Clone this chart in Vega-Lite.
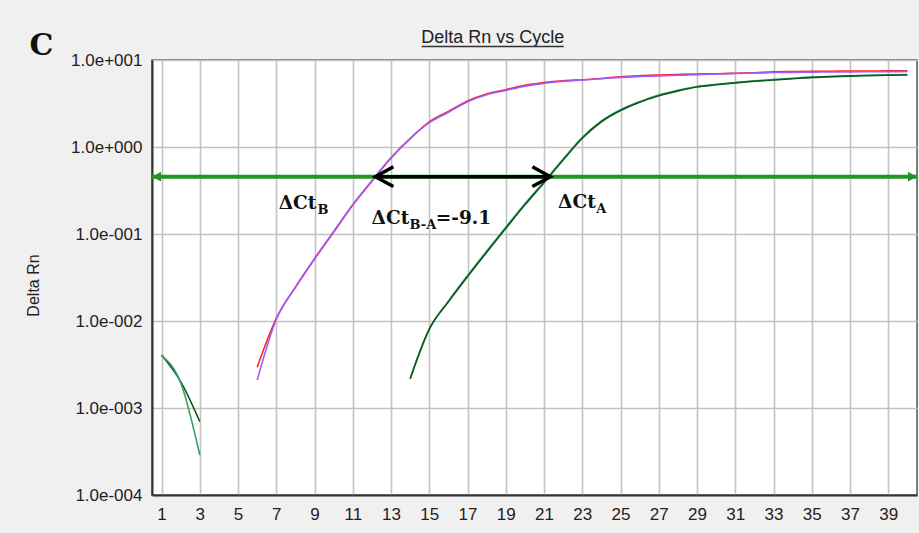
{
  "$schema": "https://vega.github.io/schema/vega-lite/v6.json",
  "autosize": {"type": "none"},
  "padding": {"left": 152, "top": 60, "right": 2, "bottom": 38},
  "width": 765,
  "height": 435,
  "background": "#f0f0f0",
  "datasets": {
    "curves": [
      {"well": "A1", "seg": 1, "cycle": 1, "rn": 0.00406},
      {"well": "A1", "seg": 1, "cycle": 2, "rn": 0.00201},
      {"well": "A1", "seg": 1, "cycle": 3, "rn": 0.000697},
      {"well": "A2", "seg": 1, "cycle": 1, "rn": 0.00400},
      {"well": "A2", "seg": 1, "cycle": 2, "rn": 0.00195},
      {"well": "A2", "seg": 1, "cycle": 3, "rn": 0.000288},

      {"well": "B1", "seg": 2, "cycle": 6, "rn": 0.00294},
      {"well": "B1", "seg": 2, "cycle": 7, "rn": 0.01075},
      {"well": "B1", "seg": 2, "cycle": 8, "rn": 0.0244},
      {"well": "B1", "seg": 2, "cycle": 9, "rn": 0.0516},
      {"well": "B1", "seg": 2, "cycle": 10, "rn": 0.1052},
      {"well": "B1", "seg": 2, "cycle": 11, "rn": 0.2150},
      {"well": "B1", "seg": 2, "cycle": 12, "rn": 0.405},
      {"well": "B1", "seg": 2, "cycle": 13, "rn": 0.748},
      {"well": "B1", "seg": 2, "cycle": 14, "rn": 1.250},
      {"well": "B1", "seg": 2, "cycle": 15, "rn": 1.94},
      {"well": "B1", "seg": 2, "cycle": 16, "rn": 2.57},
      {"well": "B1", "seg": 2, "cycle": 17, "rn": 3.39},
      {"well": "B1", "seg": 2, "cycle": 18, "rn": 4.07},
      {"well": "B1", "seg": 2, "cycle": 19, "rn": 4.56},
      {"well": "B1", "seg": 2, "cycle": 20, "rn": 5.12},
      {"well": "B1", "seg": 2, "cycle": 21, "rn": 5.51},
      {"well": "B1", "seg": 2, "cycle": 22, "rn": 5.78},
      {"well": "B1", "seg": 2, "cycle": 23, "rn": 5.94},
      {"well": "B1", "seg": 2, "cycle": 24, "rn": 6.14},
      {"well": "B1", "seg": 2, "cycle": 25, "rn": 6.42},
      {"well": "B1", "seg": 2, "cycle": 26, "rn": 6.60},
      {"well": "B1", "seg": 2, "cycle": 27, "rn": 6.72},
      {"well": "B1", "seg": 2, "cycle": 28, "rn": 6.82},
      {"well": "B1", "seg": 2, "cycle": 29, "rn": 6.91},
      {"well": "B1", "seg": 2, "cycle": 30, "rn": 6.95},
      {"well": "B1", "seg": 2, "cycle": 31, "rn": 7.04},
      {"well": "B1", "seg": 2, "cycle": 32, "rn": 7.14},
      {"well": "B1", "seg": 2, "cycle": 33, "rn": 7.30},
      {"well": "B1", "seg": 2, "cycle": 34, "rn": 7.36},
      {"well": "B1", "seg": 2, "cycle": 35, "rn": 7.41},
      {"well": "B1", "seg": 2, "cycle": 36, "rn": 7.43},
      {"well": "B1", "seg": 2, "cycle": 37, "rn": 7.46},
      {"well": "B1", "seg": 2, "cycle": 38, "rn": 7.48},
      {"well": "B1", "seg": 2, "cycle": 39, "rn": 7.49},
      {"well": "B1", "seg": 2, "cycle": 40, "rn": 7.51},

      {"well": "B2", "seg": 2, "cycle": 6, "rn": 0.00209},
      {"well": "B2", "seg": 2, "cycle": 7, "rn": 0.01047},
      {"well": "B2", "seg": 2, "cycle": 8, "rn": 0.02455},
      {"well": "B2", "seg": 2, "cycle": 9, "rn": 0.05248},
      {"well": "B2", "seg": 2, "cycle": 10, "rn": 0.1072},
      {"well": "B2", "seg": 2, "cycle": 11, "rn": 0.2188},
      {"well": "B2", "seg": 2, "cycle": 12, "rn": 0.4121},
      {"well": "B2", "seg": 2, "cycle": 13, "rn": 0.7586},
      {"well": "B2", "seg": 2, "cycle": 14, "rn": 1.259},
      {"well": "B2", "seg": 2, "cycle": 15, "rn": 1.905},
      {"well": "B2", "seg": 2, "cycle": 16, "rn": 2.512},
      {"well": "B2", "seg": 2, "cycle": 17, "rn": 3.311},
      {"well": "B2", "seg": 2, "cycle": 18, "rn": 3.981},
      {"well": "B2", "seg": 2, "cycle": 19, "rn": 4.467},
      {"well": "B2", "seg": 2, "cycle": 20, "rn": 5.012},
      {"well": "B2", "seg": 2, "cycle": 21, "rn": 5.395},
      {"well": "B2", "seg": 2, "cycle": 22, "rn": 5.689},
      {"well": "B2", "seg": 2, "cycle": 23, "rn": 5.888},
      {"well": "B2", "seg": 2, "cycle": 24, "rn": 6.095},
      {"well": "B2", "seg": 2, "cycle": 25, "rn": 6.310},
      {"well": "B2", "seg": 2, "cycle": 26, "rn": 6.457},
      {"well": "B2", "seg": 2, "cycle": 27, "rn": 6.577},
      {"well": "B2", "seg": 2, "cycle": 28, "rn": 6.683},
      {"well": "B2", "seg": 2, "cycle": 29, "rn": 6.776},
      {"well": "B2", "seg": 2, "cycle": 30, "rn": 6.887},
      {"well": "B2", "seg": 2, "cycle": 31, "rn": 6.998},
      {"well": "B2", "seg": 2, "cycle": 32, "rn": 7.079},
      {"well": "B2", "seg": 2, "cycle": 33, "rn": 7.178},
      {"well": "B2", "seg": 2, "cycle": 34, "rn": 7.211},
      {"well": "B2", "seg": 2, "cycle": 35, "rn": 7.261},
      {"well": "B2", "seg": 2, "cycle": 36, "rn": 7.278},
      {"well": "B2", "seg": 2, "cycle": 37, "rn": 7.311},
      {"well": "B2", "seg": 2, "cycle": 38, "rn": 7.328},
      {"well": "B2", "seg": 2, "cycle": 39, "rn": 7.345},
      {"well": "B2", "seg": 2, "cycle": 40, "rn": 7.362},

      {"well": "A2", "seg": 2, "cycle": 14, "rn": 0.00215},
      {"well": "A2", "seg": 2, "cycle": 15, "rn": 0.00800},
      {"well": "A2", "seg": 2, "cycle": 16, "rn": 0.0170},
      {"well": "A2", "seg": 2, "cycle": 17, "rn": 0.0334},
      {"well": "A2", "seg": 2, "cycle": 18, "rn": 0.0636},
      {"well": "A2", "seg": 2, "cycle": 19, "rn": 0.1195},
      {"well": "A2", "seg": 2, "cycle": 20, "rn": 0.2220},
      {"well": "A2", "seg": 2, "cycle": 21, "rn": 0.3990},
      {"well": "A2", "seg": 2, "cycle": 22, "rn": 0.7260},
      {"well": "A2", "seg": 2, "cycle": 23, "rn": 1.29},
      {"well": "A2", "seg": 2, "cycle": 24, "rn": 1.99},
      {"well": "A2", "seg": 2, "cycle": 25, "rn": 2.68},
      {"well": "A2", "seg": 2, "cycle": 26, "rn": 3.32},
      {"well": "A2", "seg": 2, "cycle": 27, "rn": 3.95},
      {"well": "A2", "seg": 2, "cycle": 28, "rn": 4.48},
      {"well": "A2", "seg": 2, "cycle": 29, "rn": 4.96},
      {"well": "A2", "seg": 2, "cycle": 30, "rn": 5.26},
      {"well": "A2", "seg": 2, "cycle": 31, "rn": 5.52},
      {"well": "A2", "seg": 2, "cycle": 32, "rn": 5.75},
      {"well": "A2", "seg": 2, "cycle": 33, "rn": 5.95},
      {"well": "A2", "seg": 2, "cycle": 34, "rn": 6.16},
      {"well": "A2", "seg": 2, "cycle": 35, "rn": 6.36},
      {"well": "A2", "seg": 2, "cycle": 36, "rn": 6.49},
      {"well": "A2", "seg": 2, "cycle": 37, "rn": 6.60},
      {"well": "A2", "seg": 2, "cycle": 38, "rn": 6.68},
      {"well": "A2", "seg": 2, "cycle": 39, "rn": 6.75},
      {"well": "A2", "seg": 2, "cycle": 40, "rn": 6.80},

      {"well": "A1", "seg": 2, "cycle": 14, "rn": 0.002188},
      {"well": "A1", "seg": 2, "cycle": 15, "rn": 0.008128},
      {"well": "A1", "seg": 2, "cycle": 16, "rn": 0.0166},
      {"well": "A1", "seg": 2, "cycle": 17, "rn": 0.03236},
      {"well": "A1", "seg": 2, "cycle": 18, "rn": 0.06166},
      {"well": "A1", "seg": 2, "cycle": 19, "rn": 0.1161},
      {"well": "A1", "seg": 2, "cycle": 20, "rn": 0.2163},
      {"well": "A1", "seg": 2, "cycle": 21, "rn": 0.3890},
      {"well": "A1", "seg": 2, "cycle": 22, "rn": 0.7079},
      {"well": "A1", "seg": 2, "cycle": 23, "rn": 1.259},
      {"well": "A1", "seg": 2, "cycle": 24, "rn": 1.950},
      {"well": "A1", "seg": 2, "cycle": 25, "rn": 2.630},
      {"well": "A1", "seg": 2, "cycle": 26, "rn": 3.273},
      {"well": "A1", "seg": 2, "cycle": 27, "rn": 3.890},
      {"well": "A1", "seg": 2, "cycle": 28, "rn": 4.416},
      {"well": "A1", "seg": 2, "cycle": 29, "rn": 4.898},
      {"well": "A1", "seg": 2, "cycle": 30, "rn": 5.188},
      {"well": "A1", "seg": 2, "cycle": 31, "rn": 5.458},
      {"well": "A1", "seg": 2, "cycle": 32, "rn": 5.689},
      {"well": "A1", "seg": 2, "cycle": 33, "rn": 5.888},
      {"well": "A1", "seg": 2, "cycle": 34, "rn": 6.095},
      {"well": "A1", "seg": 2, "cycle": 35, "rn": 6.310},
      {"well": "A1", "seg": 2, "cycle": 36, "rn": 6.427},
      {"well": "A1", "seg": 2, "cycle": 37, "rn": 6.531},
      {"well": "A1", "seg": 2, "cycle": 38, "rn": 6.607},
      {"well": "A1", "seg": 2, "cycle": 39, "rn": 6.683},
      {"well": "A1", "seg": 2, "cycle": 40, "rn": 6.730}
    ],
    "threshold": [
      {"start": 0.5, "end": 40.5, "rn": 0.456}
    ],
    "ctspan": [
      {"ctB": 12.18, "ctA": 21.33, "rn": 0.456}
    ],
    "heading": [
      {"label": "Delta Rn vs Cycle", "cycle": 18.32, "rn": 15.56, "from": 14.6, "to": 22.03, "lineRn": 14.3}
    ],
    "notes": [
      {"role": "main", "label": "ΔCt", "cycle": 9.09, "rn": 0.1938},
      {"role": "sub", "label": "B", "cycle": 9.15, "rn": 0.172},
      {"role": "main", "label": "ΔCt", "cycle": 13.95, "rn": 0.1293},
      {"role": "sub", "label": "B-A", "cycle": 13.97, "rn": 0.1127},
      {"role": "tail", "label": "=-9.1", "cycle": 15.34, "rn": 0.1293},
      {"role": "main", "label": "ΔCt", "cycle": 23.7, "rn": 0.1974},
      {"role": "sub", "label": "A", "cycle": 23.73, "rn": 0.173},
      {"role": "panel", "label": "C", "cycle": -5.9, "rn": 11.4}
    ]
  },
  "encoding": {
    "x": {
      "field": "cycle",
      "type": "quantitative",
      "scale": {"domain": [0.5, 40.5], "nice": false, "zero": false},
      "axis": {
        "title": null,
        "values": [1, 3, 5, 7, 9, 11, 13, 15, 17, 19, 21, 23, 25, 27, 29, 31, 33, 35, 37, 39],
        "ticks": false,
        "labelPadding": 11,
        "labelFont": "Liberation Sans",
        "labelFontSize": 17,
        "labelColor": "#222222",
        "labelFlush": false,
        "domainColor": "#333333",
        "domainWidth": 2,
        "gridColor": "#c3c3c3",
        "gridWidth": 1.6,
        "gridOpacity": 1
      }
    },
    "y": {
      "field": "rn",
      "type": "quantitative",
      "scale": {"type": "log", "domain": [0.0001, 10], "nice": false},
      "axis": {
        "title": "Delta Rn",
        "titleFont": "Liberation Sans",
        "titleFontSize": 16,
        "titleFontWeight": "normal",
        "titleColor": "#222222",
        "titleAngle": 270,
        "titleAlign": "center",
        "titleBaseline": "middle",
        "titleX": -119,
        "titleY": 225,
        "values": [0.0001, 0.001, 0.01, 0.1, 1, 10],
        "labelExpr": "datum.value >= 5 ? '1.0e+001' : datum.value >= 0.5 ? '1.0e+000' : datum.value >= 0.05 ? '1.0e-001' : datum.value >= 0.005 ? '1.0e-002' : datum.value >= 0.0005 ? '1.0e-003' : '1.0e-004'",
        "ticks": false,
        "labelPadding": 10,
        "labelFont": "Liberation Sans",
        "labelFontSize": 17,
        "labelColor": "#222222",
        "labelFlush": false,
        "domainColor": "#333333",
        "domainWidth": 2,
        "gridColor": "#c3c3c3",
        "gridWidth": 1.6,
        "gridOpacity": 1
      }
    }
  },
  "layer": [
    {
      "data": {"name": "curves"},
      "mark": {"type": "line", "strokeWidth": 1.6, "clip": true, "interpolate": "monotone"},
      "encoding": {
        "color": {
          "field": "well",
          "type": "nominal",
          "scale": {"domain": ["B1", "B2", "A2", "A1"], "range": ["#ff1f1f", "#9d5cff", "#3a9e66", "#0b5a1f"]},
          "legend": null
        },
        "detail": {"field": "seg", "type": "nominal"}
      }
    },
    {
      "data": {"name": "threshold"},
      "mark": {"type": "rule", "color": "#269326", "strokeWidth": 4},
      "encoding": {
        "x": {"field": "start", "type": "quantitative"},
        "x2": {"field": "end"}
      }
    },
    {
      "data": {"name": "threshold"},
      "mark": {"type": "point", "shape": "M0,0L1,-0.55L1,0.55Z", "filled": true, "size": 324, "color": "#269326", "opacity": 1},
      "encoding": {"x": {"field": "start", "type": "quantitative"}}
    },
    {
      "data": {"name": "threshold"},
      "mark": {"type": "point", "shape": "M0,0L-1,-0.55L-1,0.55Z", "filled": true, "size": 324, "color": "#269326", "opacity": 1},
      "encoding": {"x": {"field": "end", "type": "quantitative"}}
    },
    {
      "data": {"name": "ctspan"},
      "mark": {"type": "rule", "color": "#000000", "strokeWidth": 3.5},
      "encoding": {
        "x": {"field": "ctB", "type": "quantitative"},
        "x2": {"field": "ctA"}
      }
    },
    {
      "data": {"name": "ctspan"},
      "mark": {"type": "point", "shape": "M1,-0.55L0,0L1,0.55", "filled": false, "size": 1296, "color": "#000000", "strokeWidth": 3.5, "opacity": 1},
      "encoding": {"x": {"field": "ctB", "type": "quantitative"}}
    },
    {
      "data": {"name": "ctspan"},
      "mark": {"type": "point", "shape": "M-1,-0.55L0,0L-1,0.55", "filled": false, "size": 1296, "color": "#000000", "strokeWidth": 3.5, "opacity": 1},
      "encoding": {"x": {"field": "ctA", "type": "quantitative"}}
    },
    {
      "data": {"name": "heading"},
      "mark": {"type": "text", "font": "Liberation Sans", "fontSize": 18, "align": "center", "baseline": "alphabetic", "color": "#222222"},
      "encoding": {"text": {"field": "label"}}
    },
    {
      "data": {"name": "heading"},
      "mark": {"type": "rule", "color": "#333333", "strokeWidth": 1.3},
      "encoding": {
        "x": {"field": "from", "type": "quantitative"},
        "x2": {"field": "to"},
        "y": {"field": "lineRn", "type": "quantitative"}
      }
    },
    {
      "data": {"name": "notes"},
      "transform": [{"filter": "datum.role === 'main'"}],
      "mark": {"type": "text", "font": "DejaVu Serif", "fontWeight": "bold", "fontSize": 18.5, "align": "right", "baseline": "alphabetic", "color": "#111111"},
      "encoding": {"text": {"field": "label"}}
    },
    {
      "data": {"name": "notes"},
      "transform": [{"filter": "datum.role === 'sub'"}],
      "mark": {"type": "text", "font": "DejaVu Serif", "fontWeight": "bold", "fontSize": 13, "align": "left", "baseline": "alphabetic", "color": "#111111"},
      "encoding": {"text": {"field": "label"}}
    },
    {
      "data": {"name": "notes"},
      "transform": [{"filter": "datum.role === 'tail'"}],
      "mark": {"type": "text", "font": "DejaVu Serif", "fontWeight": "bold", "fontSize": 18.5, "align": "left", "baseline": "alphabetic", "color": "#111111"},
      "encoding": {"text": {"field": "label"}}
    },
    {
      "data": {"name": "notes"},
      "transform": [{"filter": "datum.role === 'panel'"}],
      "mark": {"type": "text", "font": "DejaVu Serif", "fontWeight": "bold", "fontSize": 30, "align": "left", "baseline": "alphabetic", "color": "#111111"},
      "encoding": {"text": {"field": "label"}}
    }
  ],
  "config": {
    "view": {"fill": "#ffffff", "stroke": "#555555", "strokeWidth": 1.5}
  }
}
